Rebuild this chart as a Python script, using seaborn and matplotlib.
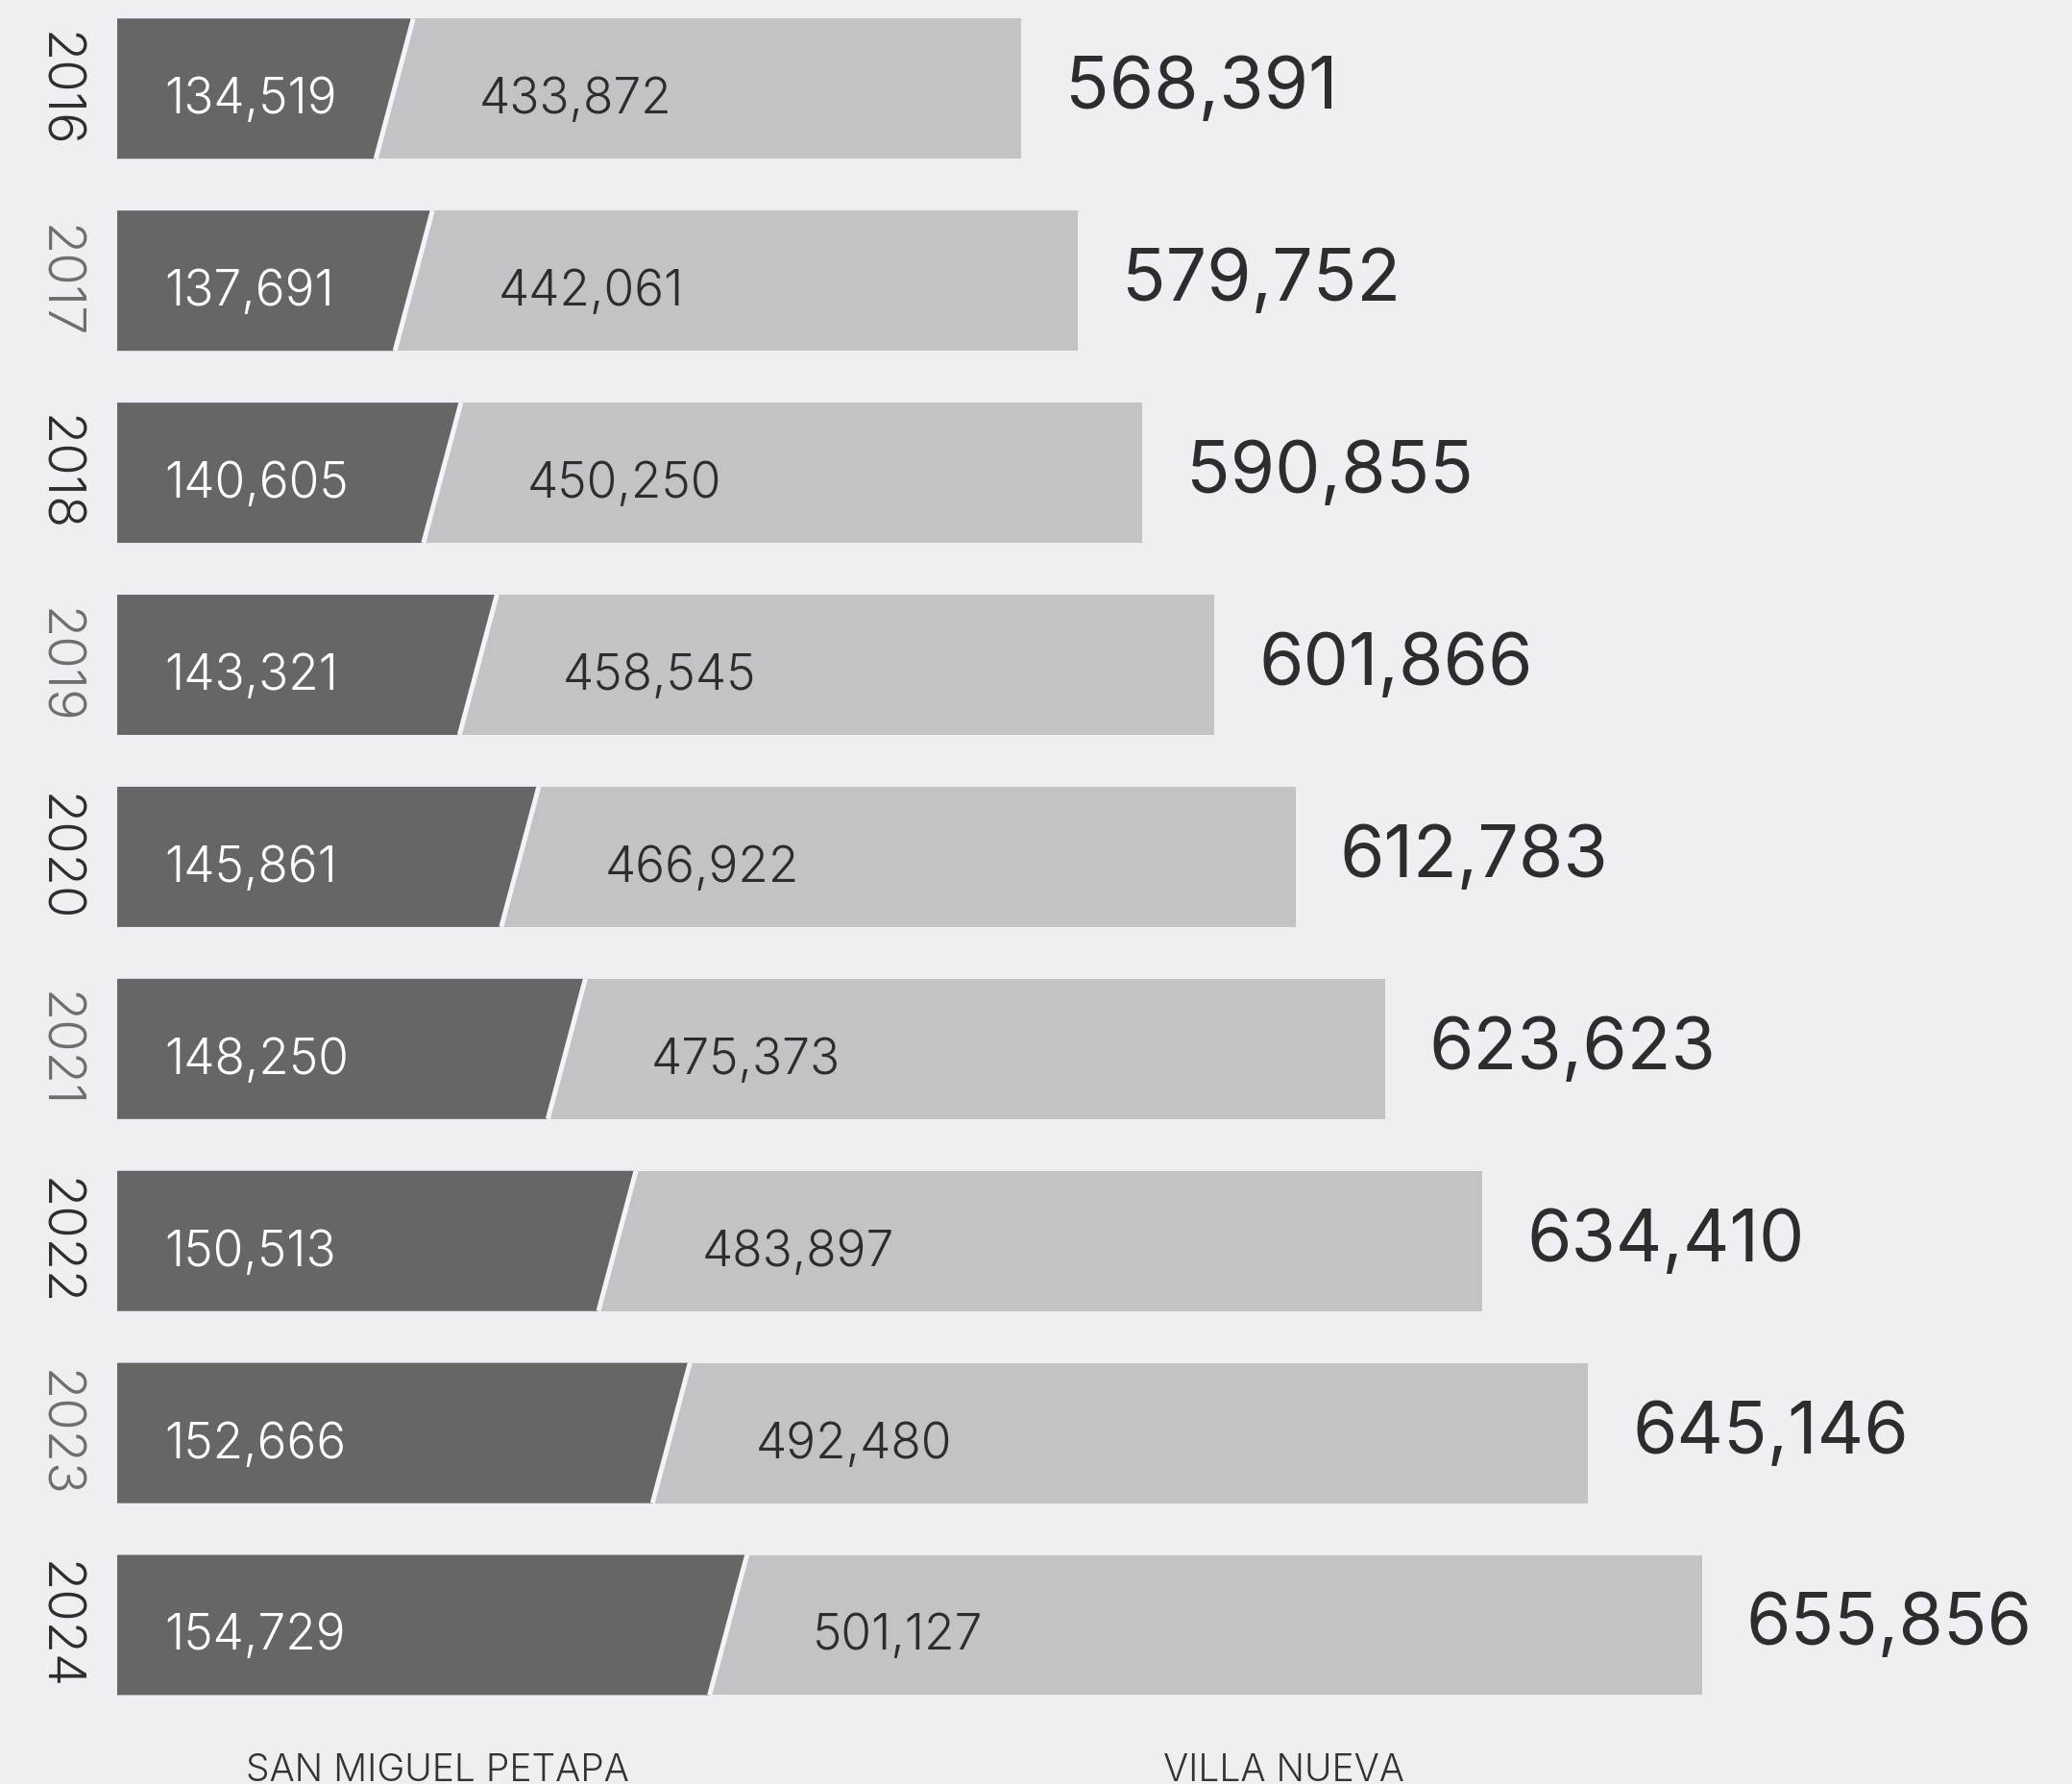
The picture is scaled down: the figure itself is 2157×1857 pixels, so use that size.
import matplotlib
matplotlib.use("Agg")
import numpy as np
import matplotlib.pyplot as plt
import seaborn as sns
import pandas as pd
from matplotlib.patches import Polygon

# ---------------- data ----------------
years = ["2016", "2017", "2018", "2019", "2020", "2021", "2022", "2023", "2024"]
san_miguel_petapa = [134519, 137691, 140605, 143321, 145861, 148250, 150513, 152666, 154729]
villa_nueva = [433872, 442061, 450250, 458545, 466922, 475373, 483897, 492480, 501127]
totals = [568391, 579752, 590855, 601866, 612783, 623623, 634410, 645146, 655856]
series_names = ["SAN MIGUEL PETAPA", "VILLA NUEVA"]

# ---------------- style ----------------
BG = "#eeeff3"
DARK = "#666666"
LIGHT = "#c2c3c7"
TXT = "#2d2d2d"
SEP = "#f3f4f7"

sns.set_theme(style="white")
plt.rcParams["font.family"] = ["Inter", "Lato", "DejaVu Sans"]

W, H, DPI = 2157, 1858, 100
fig = plt.figure(figsize=(W / DPI, H / DPI), dpi=DPI, facecolor=BG)
left_px = 122
pos = [left_px / W, 0.02454, (W - left_px) / W, 0.9715]
ax_t = fig.add_axes(pos)
ax_d = fig.add_axes(pos)
ax_d.patch.set_alpha(0)

df = pd.DataFrame({"year": years, "smp": san_miguel_petapa,
                   "vn": villa_nueva, "total": totals})

sns.barplot(data=df, x="total", y="year", orient="h", color=LIGHT, saturation=1,
            width=0.73, linewidth=0, errorbar=None, ax=ax_t)
sns.barplot(data=df, x="smp", y="year", orient="h", color=DARK, saturation=1,
            width=0.73, linewidth=0, errorbar=None, ax=ax_d)


def signed_square_scale(center, unit):
    def fwd(x):
        u = (np.asarray(x, dtype=float) - center) / unit
        return np.sign(u) * u * u

    def inv(y):
        y = np.asarray(y, dtype=float)
        return center + unit * np.sign(y) * np.sqrt(np.abs(y))
    return fwd, inv


# non-linear (infographic-style) value axes
ax_t.set_xscale("function", functions=signed_square_scale(507375, 1e4))
ax_d.set_xscale("function", functions=signed_square_scale(131188, 1e3))
XT = (363775, 686295)
XD = (110208, 183538)
YL = (8.6, -0.43)


def set_limits():
    ax_t.set_xlim(*XT)
    ax_d.set_xlim(*XD)
    for ax in (ax_t, ax_d):
        ax.set_ylim(*YL)


set_limits()

# slanted right edge of the dark segments (slant of +/-19.5 px)
inv_d = ax_d.transData.inverted()
for p in list(ax_d.patches):
    x, y, w, h = p.get_x(), p.get_y(), p.get_width(), p.get_height()
    p.set_visible(False)
    xe = x + w
    xe_px = ax_d.transData.transform((xe, y))[0]
    x_top = inv_d.transform((xe_px + 19.5, 0))[0]
    x_bot = inv_d.transform((xe_px - 19.5, 0))[0]
    poly = Polygon([(XD[0], y), (x_top, y), (x_bot, y + h), (XD[0], y + h)],
                   closed=True, fc=DARK, ec="none", zorder=3)
    ax_d.add_patch(poly)
    ax_d.plot([x_top, x_bot], [y, y + h], color=SEP, lw=3.6,
              solid_capstyle="butt", zorder=4)

set_limits()
for ax in (ax_t, ax_d):
    ax.axis("off")

# labels
for i, (yr, d, v, t) in enumerate(zip(years, san_miguel_petapa, villa_nueva, totals)):
    ax_d.annotate(f"{d:,}", xy=(0, i), xycoords=ax_d.get_yaxis_transform(),
                  xytext=(49, -25), textcoords="offset pixels", ha="left", va="baseline",
                  color="white", fontsize=37, fontweight=300, annotation_clip=False, zorder=5)
    ax_d.annotate(f"{v:,}", xy=(d, i), xycoords="data",
                  xytext=(88, -25), textcoords="offset pixels", ha="left", va="baseline",
                  color=TXT, fontsize=37, fontweight=300, annotation_clip=False, zorder=5)
    ax_t.annotate(f"{t:,}", xy=(t, i), xycoords="data",
                  xytext=(46, -20), textcoords="offset pixels", ha="left", va="baseline",
                  color=TXT, fontsize=54, fontweight=400, annotation_clip=False)
    ax_t.annotate(yr, xy=(0, i), xycoords=ax_t.get_yaxis_transform(),
                  xytext=(-63, 0), textcoords="offset pixels", ha="center", va="center",
                  rotation=-90, color=TXT if int(yr) % 2 == 0 else "#6e6e6e",
                  fontsize=39, fontweight=300, annotation_clip=False)

fig.text(455 / W, 4 / H, series_names[0], ha="center", va="baseline",
         fontsize=28, fontweight=300, color="#333333")
fig.text(1336 / W, 4 / H, series_names[1], ha="center", va="baseline",
         fontsize=28, fontweight=300, color="#333333")

fig.savefig("out.png", dpi=DPI, facecolor=BG)
